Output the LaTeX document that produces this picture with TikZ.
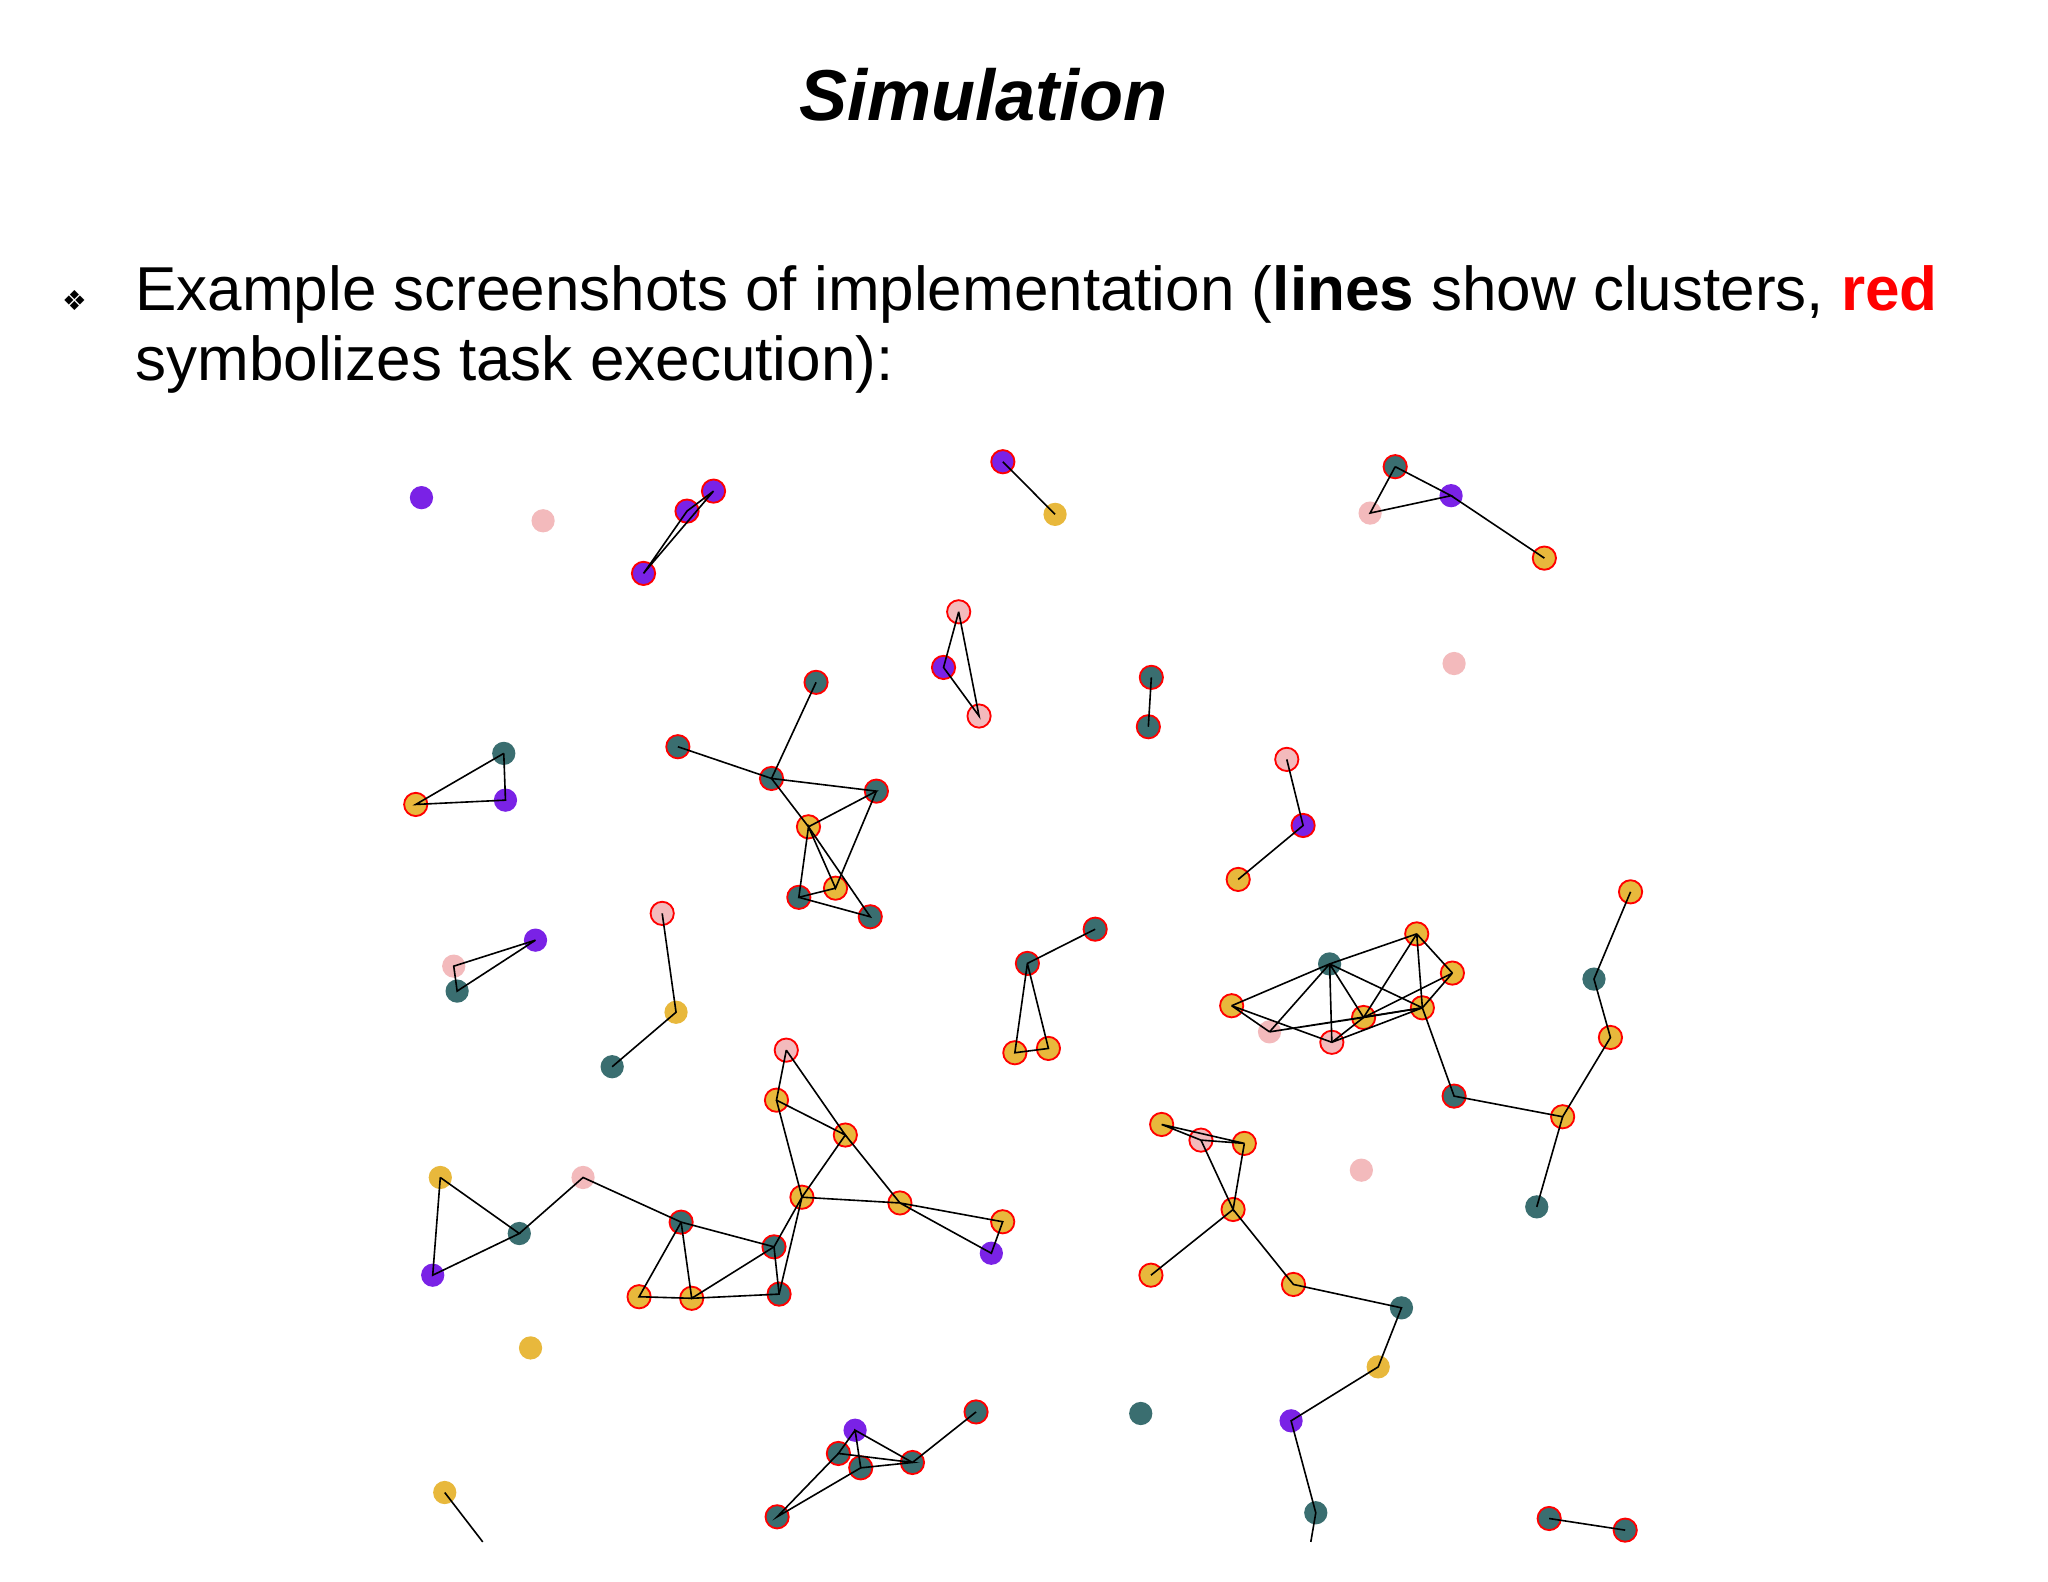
\documentclass[tikz,border=0pt]{standalone}
\usepackage{fontspec}
\setmainfont{Liberation Sans}
\newfontfamily\symfont{DejaVu Sans}
\usepackage{xcolor}
\definecolor{nodepurple}{RGB}{122,34,230}
\definecolor{nodeteal}{RGB}{58,110,112}
\definecolor{nodegold}{RGB}{232,184,60}
\definecolor{nodepink}{RGB}{243,186,188}
\begin{document}
\begin{tikzpicture}[
        x=0.01cm, y=-0.01cm,
        dot/.style={circle, minimum size=0.178cm, inner sep=0pt},
        pu/.style={dot, fill=nodepurple},
        te/.style={dot, fill=nodeteal},
        go/.style={dot, fill=nodegold},
        pk/.style={dot, fill=nodepink},
        act/.style={draw=red, line width=0.4pt},
        link/.style={line width=0.35pt, black}
    ]
        \useasboundingbox (0,0) rectangle (1568,1211);

        % Heading
        \node[anchor=base, font=\fontsize{15.7}{18}\selectfont\bfseries\itshape] (title) at (753,92) {Simulation};
        \node[font=\symfont\fontsize{6}{7}\selectfont] (bullet) at (57,230) {❖};
        \node[anchor=base west, align=left, inner sep=0pt, font=\fontsize{13.5}{15.1}\selectfont] (intro) at (103,291)
            {Example screenshots of implementation (\textbf{lines} show clusters, \textcolor{red}{\textbf{red}}\\symbolizes task execution):};

        % Nodes
        \node[pu] (n1) at (322.7,381) {};
        \node[pk] (n2) at (415.8,398.7) {};
        \node[pu, act] (n3) at (546.3,376) {};
        \node[pu, act] (n4) at (526,391.3) {};
        \node[pu, act] (n5) at (492.7,439) {};
        \node[pu, act] (n6) at (767.8,353.5) {};
        \node[go] (n7) at (807.8,393.8) {};
        \node[te, act] (n8) at (1068.2,357.3) {};
        \node[pk] (n9) at (1049,392.8) {};
        \node[pu] (n10) at (1111,379.5) {};
        \node[go, act] (n11) at (1182.4,427.3) {};
        \node[pk, act] (n12) at (734,468.4) {};
        \node[pu, act] (n13) at (722.4,511) {};
        \node[pk, act] (n14) at (749.6,548.2) {};
        \node[te, act] (n15) at (881.5,518.6) {};
        \node[te, act] (n16) at (879.2,556.4) {};
        \node[pk] (n17) at (1113.3,508) {};
        \node[te, act] (n18) at (624.8,522.4) {};
        \node[te, act] (n19) at (519,571.7) {};
        \node[te, act] (n20) at (590.7,596) {};
        \node[te, act] (n21) at (671,605.7) {};
        \node[go, act] (n22) at (619,633) {};
        \node[te, act] (n23) at (611.6,687) {};
        \node[go, act] (n24) at (639.7,680) {};
        \node[te, act] (n25) at (666.3,701.9) {};
        \node[pk, act] (n26) at (985.2,581.4) {};
        \node[pu, act] (n27) at (997.7,632) {};
        \node[go, act] (n28) at (948,673.3) {};
        \node[te] (n29) at (385.7,576.8) {};
        \node[pu] (n30) at (387,612.6) {};
        \node[go, act] (n31) at (318.3,615.9) {};
        \node[pu] (n32) at (410,719.8) {};
        \node[pk] (n33) at (347.4,739.7) {};
        \node[te] (n34) at (350,758.8) {};
        \node[pk, act] (n35) at (507,699.3) {};
        \node[go] (n36) at (517.6,775) {};
        \node[te] (n37) at (468.7,816.7) {};
        \node[te, act] (n38) at (838.5,711.4) {};
        \node[te, act] (n39) at (786.6,737.6) {};
        \node[go, act] (n40) at (777,806) {};
        \node[go, act] (n41) at (802.7,802.7) {};
        \node[go, act] (n42) at (1084.7,715) {};
        \node[te] (n43) at (1018,738) {};
        \node[go, act] (n44) at (1112,745) {};
        \node[go, act] (n45) at (943,770) {};
        \node[go, act] (n46) at (1044,779) {};
        \node[go, act] (n47) at (1089,771.6) {};
        \node[pk] (n48) at (972,790) {};
        \node[pk, act] (n49) at (1019.7,798) {};
        \node[te, act] (n50) at (1113.3,839.2) {};
        \node[go, act] (n51) at (1196.4,855) {};
        \node[go, act] (n52) at (1248.4,682.8) {};
        \node[te] (n53) at (1220.4,749.6) {};
        \node[go, act] (n54) at (1233,794.3) {};
        \node[te] (n55) at (1176.6,924) {};
        \node[pk, act] (n56) at (602,804) {};
        \node[go, act] (n57) at (594.5,842.3) {};
        \node[go, act] (n58) at (647.2,869) {};
        \node[go, act] (n59) at (614,916.6) {};
        \node[go, act] (n60) at (689,921) {};
        \node[go, act] (n61) at (767.7,935.4) {};
        \node[pu] (n62) at (759,959.5) {};
        \node[go] (n63) at (337.1,901.5) {};
        \node[pk] (n64) at (446.4,901.5) {};
        \node[te] (n65) at (397.6,944.4) {};
        \node[pu] (n66) at (331.3,976.3) {};
        \node[te, act] (n67) at (521.5,935.7) {};
        \node[te, act] (n68) at (592.6,954.6) {};
        \node[go, act] (n69) at (489.3,992.8) {};
        \node[go, act] (n70) at (529.6,994) {};
        \node[te, act] (n71) at (596.5,990.8) {};
        \node[go] (n72) at (406.2,1032) {};
        \node[go, act] (n73) at (889.4,860.9) {};
        \node[pk, act] (n74) at (919.5,872.9) {};
        \node[go, act] (n75) at (952.7,875.4) {};
        \node[go, act] (n76) at (944.1,926) {};
        \node[go, act] (n77) at (881.2,976.3) {};
        \node[go, act] (n78) at (990.3,983.4) {};
        \node[te] (n79) at (1073,1001.3) {};
        \node[pk] (n80) at (1042.3,895.9) {};
        \node[go] (n81) at (1055.2,1046.5) {};
        \node[pu] (n82) at (988.5,1087.8) {};
        \node[te] (n83) at (1007.4,1158.2) {};
        \node[te] (n84) at (873.4,1082.2) {};
        \node[go] (n85) at (340.5,1142.7) {};
        \node[pu] (n86) at (654.7,1095) {};
        \node[te, act] (n87) at (641.9,1112.8) {};
        \node[te, act] (n88) at (659,1123.8) {};
        \node[te, act] (n89) at (698.6,1119.7) {};
        \node[te, act] (n90) at (747.3,1081) {};
        \node[te, act] (n91) at (595,1161.3) {};
        \node[te, act] (n92) at (1186.1,1162.6) {};
        \node[te, act] (n93) at (1244.3,1171.5) {};
        \coordinate (cut1) at (369.6,1180.5);
        \coordinate (cut2) at (1003.6,1180.5);

        % Cluster lines
        \draw[link] (n3.center) -- (n4.center) -- (n5.center) -- (n3.center);
        \draw[link] (n6.center) -- (n7.center);
        \draw[link] (n8.center) -- (n9.center) -- (n10.center) -- (n8.center);
        \draw[link] (n10.center) -- (n11.center);
        \draw[link] (n12.center) -- (n13.center) -- (n14.center) -- (n12.center);
        \draw[link] (n15.center) -- (n16.center);
        \draw[link] (n18.center) -- (n20.center) -- (n21.center) -- (n22.center) -- (n20.center);
        \draw[link] (n19.center) -- (n20.center);
        \draw[link] (n21.center) -- (n24.center) -- (n22.center) -- (n23.center) -- (n24.center);
        \draw[link] (n22.center) -- (n25.center) -- (n23.center);
        \draw[link] (n26.center) -- (n27.center) -- (n28.center);
        \draw[link] (n29.center) -- (n30.center) -- (n31.center) -- (n29.center);
        \draw[link] (n32.center) -- (n33.center) -- (n34.center) -- (n32.center);
        \draw[link] (n35.center) -- (n36.center) -- (n37.center);
        \draw[link] (n38.center) -- (n39.center) -- (n40.center) -- (n41.center) -- (n39.center);
        \draw[link] (n43.center) -- (n42.center) (n43.center) -- (n45.center) (n43.center) -- (n48.center)
            (n43.center) -- (n49.center) (n43.center) -- (n46.center) (n43.center) -- (n47.center);
        \draw[link] (n42.center) -- (n46.center) (n42.center) -- (n47.center) (n42.center) -- (n44.center);
        \draw[link] (n44.center) -- (n46.center) (n44.center) -- (n47.center);
        \draw[link] (n45.center) -- (n48.center) (n45.center) -- (n49.center);
        \draw[link] (n48.center) -- (n46.center) (n48.center) -- (n47.center);
        \draw[link] (n49.center) -- (n46.center) (n49.center) -- (n47.center) (n46.center) -- (n47.center);
        \draw[link] (n47.center) -- (n50.center) -- (n51.center) -- (n54.center) -- (n53.center) -- (n52.center);
        \draw[link] (n51.center) -- (n55.center);
        \draw[link] (n56.center) -- (n57.center) -- (n58.center) -- (n56.center);
        \draw[link] (n57.center) -- (n59.center) -- (n58.center) -- (n60.center) -- (n59.center);
        \draw[link] (n60.center) -- (n61.center) -- (n62.center) -- (n60.center);
        \draw[link] (n59.center) -- (n68.center) (n59.center) -- (n71.center);
        \draw[link] (n63.center) -- (n65.center) -- (n66.center) -- (n63.center);
        \draw[link] (n65.center) -- (n64.center) -- (n67.center) -- (n68.center) -- (n71.center) -- (n70.center) -- (n69.center) -- (n67.center);
        \draw[link] (n67.center) -- (n70.center) -- (n68.center);
        \draw[link] (n73.center) -- (n74.center) -- (n75.center) -- (n73.center);
        \draw[link] (n74.center) -- (n76.center) -- (n75.center);
        \draw[link] (n77.center) -- (n76.center) -- (n78.center) -- (n79.center) -- (n81.center) -- (n82.center) -- (n83.center) -- (cut2);
        \draw[link] (n85.center) -- (cut1);
        \draw[link] (n86.center) -- (n87.center) -- (n89.center) -- (n88.center) -- (n86.center) -- (n89.center) -- (n90.center);
        \draw[link] (n87.center) -- (n91.center) -- (n88.center);
        \draw[link] (n92.center) -- (n93.center);
    \end{tikzpicture}
\end{document}
